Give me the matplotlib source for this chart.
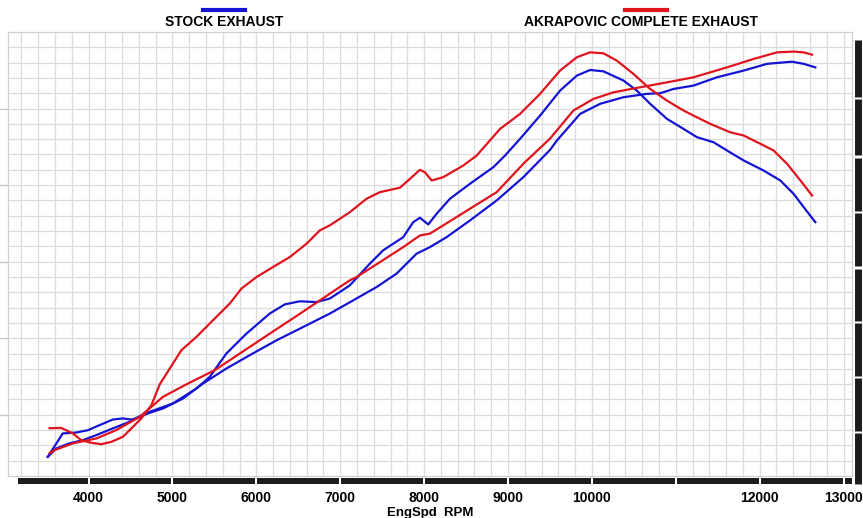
import matplotlib
matplotlib.use("Agg")
import matplotlib.pyplot as plt
import matplotlib.transforms as mtransforms
from matplotlib.lines import Line2D

# engine speed (rpm) and curve heights in grid rows (y axis has no labels)
stock_torque_rpm = [3514, 3693, 3853, 3992, 4131, 4290, 4409, 4510, 4609, 4728, 5006, 5285, 5444,
                    5643, 5882, 6160, 6339, 6518, 6717, 6876, 7114, 7353, 7512, 7631, 7751, 7870,
                    7950, 8049, 8149, 8308, 8547, 8825, 8964, 9143, 9382, 9620, 9820, 9978, 10137,
                    10376, 10536, 10694, 10894, 11092, 11252, 11450, 11610, 11808, 12047, 12246,
                    12404, 12524, 12663]
stock_torque = [1.25, 2.78, 2.84, 2.99, 3.32, 3.69, 3.76, 3.69, 3.82, 4.19, 4.74, 5.71, 6.47,
                8.00, 9.30, 10.61, 11.21, 11.41, 11.36, 11.59, 12.45, 13.87, 14.74, 15.17, 15.60,
                16.58, 16.87, 16.43, 17.13, 18.11, 19.09, 20.17, 20.93, 22.02, 23.54, 25.17,
                26.15, 26.52, 26.43, 25.83, 25.17, 24.31, 23.33, 22.67, 22.13, 21.80, 21.26,
                20.61, 19.95, 19.30, 18.43, 17.56, 16.58]

stock_power_rpm = [3514, 3615, 3773, 3932, 4092, 4290, 4489, 4609, 4887, 5125, 5364, 5643, 5921,
                   6240, 6557, 6876, 7154, 7433, 7672, 7910, 8069, 8268, 8546, 8865, 9183, 9501,
                   9581, 9859, 10098, 10376, 10655, 10814, 10973, 11211, 11490, 11808, 12087,
                   12385, 12524, 12663]
stock_power = [1.25, 1.80, 2.13, 2.34, 2.67, 3.11, 3.54, 3.91, 4.41, 5.06, 6.04, 7.02, 7.89,
               8.86, 9.73, 10.61, 11.47, 12.34, 13.22, 14.52, 14.95, 15.60, 16.69, 18.00, 19.52,
               21.30, 21.90, 23.65, 24.31, 24.74, 24.96, 25.00, 25.28, 25.50, 26.04, 26.48,
               26.92, 27.06, 26.92, 26.69]

akra_torque_rpm = [3535, 3674, 3813, 3913, 4032, 4152, 4271, 4409, 4529, 4629, 4749, 4850, 5106,
                   5285, 5483, 5683, 5822, 6001, 6199, 6399, 6598, 6757, 6876, 7114, 7314, 7473,
                   7711, 7831, 7950, 8009, 8090, 8228, 8467, 8626, 8905, 9143, 9382, 9620, 9820,
                   9978, 10137, 10297, 10495, 10694, 10894, 11092, 11211, 11410, 11649, 11808,
                   12007, 12166, 12326, 12485, 12624]
akra_torque = [3.12, 3.14, 2.78, 2.34, 2.17, 2.08, 2.23, 2.56, 3.21, 3.76, 4.62, 6.00, 8.21,
               9.08, 10.17, 11.26, 12.24, 12.99, 13.65, 14.30, 15.17, 16.04, 16.37, 17.23, 18.11,
               18.54, 18.83, 19.41, 20.00, 19.84, 19.30, 19.52, 20.28, 20.93, 22.67, 23.65,
               24.96, 26.48, 27.35, 27.67, 27.61, 27.13, 26.26, 25.28, 24.52, 23.87, 23.54,
               23.00, 22.45, 22.24, 21.70, 21.26, 20.39, 19.30, 18.32]

akra_power_rpm = [3535, 3594, 3813, 4092, 4331, 4609, 4887, 5185, 5504, 6160, 6479, 6757, 7114,
                  7194, 7473, 7751, 7950, 8069, 8228, 8547, 8865, 9191, 9501, 9779, 10018, 10257,
                  10575, 10894, 11211, 11610, 11927, 12206, 12404, 12524, 12624]
akra_power = [1.49, 1.69, 2.13, 2.45, 3.00, 3.86, 5.17, 6.04, 6.91, 9.30, 10.45, 11.47, 12.78,
              12.99, 13.97, 14.95, 15.71, 15.83, 16.37, 17.46, 18.54, 20.44, 22.04, 23.87, 24.63,
              25.06, 25.39, 25.71, 26.04, 26.69, 27.24, 27.67, 27.72, 27.67, 27.52]

xticks = [4000, 5000, 6000, 7000, 8000, 9000, 10000, 11000, 12000, 13000]
xtick_labels = ["4000", "5000", "6000", "7000", "8000", "9000", "10000", "", "12000", "13000"]

BLUE = "#1414d2"
RED = "#e0141e"
GRID = "#dcdcdc"
BAR = "#1c1c1c"

plt.rcParams["font.family"] = ["Liberation Sans", "DejaVu Sans"]

fig = plt.figure(figsize=(8.63, 5.18), dpi=100)
ax = fig.add_axes([8 / 863, 1 - 476 / 518, 844 / 863, 444 / 518])

ax.plot(stock_torque_rpm, stock_torque, color=BLUE, lw=1.6)
ax.plot(stock_power_rpm, stock_power, color=BLUE, lw=1.6)
ax.plot(akra_torque_rpm, akra_torque, color=RED, lw=1.6)
ax.plot(akra_power_rpm, akra_power, color=RED, lw=1.6)

ax.set_xlim(3040, 13100)
ax.set_ylim(0, 29)

ax.set_xticks(xticks)
ax.set_xticklabels(xtick_labels, fontsize=10, fontweight="bold")
ax.set_xticks(range(3200, 13100, 200), minor=True)
ax.set_yticks([4, 9, 14, 19, 24])
ax.set_yticklabels([])
ax.set_yticks(range(1, 29), minor=True)
ax.tick_params(axis="x", which="both", length=0, pad=11)
ax.tick_params(axis="y", which="major", length=7, color="#c8c8c8", width=1)
ax.tick_params(axis="y", which="minor", length=0)
ax.grid(which="both", color=GRID, lw=0.9)
ax.set_axisbelow(True)
for s in ax.spines.values():
    s.set_color("#d0d0d0")
    s.set_linewidth(0.9)
ax.set_xlabel("EngSpd  RPM", fontsize=9.5, fontweight="bold", labelpad=1)

# black segmented scale bar under the plot
tx = mtransforms.blended_transform_factory(ax.transData, ax.transAxes)
edges = [3165] + xticks + [13100]
for a, b in zip(edges[:-1], edges[1:]):
    ax.plot([a + 12 if a != 3165 else a, b - 12 if b != 13100 else b], [-0.0113, -0.0113],
            transform=tx, color=BAR, lw=4.3, solid_capstyle="butt", clip_on=False)

# black segmented scale bar on the right
ty = mtransforms.blended_transform_factory(ax.transAxes, ax.transData)
right_segments = [(-0.5, 2.8), (2.95, 6.4), (6.55, 10.0), (10.15, 13.55), (13.7, 17.15),
                  (17.3, 20.8), (20.95, 24.6), (24.75, 28.5)]
for a, b in right_segments:
    ax.plot([1.0077, 1.0077], [a, b], transform=ty, color=BAR, lw=5,
            solid_capstyle="butt", clip_on=False)

# legend at the top
fig.add_artist(Line2D([203 / 863, 245 / 863], [1 - 10 / 518, 1 - 10 / 518], color=BLUE, lw=3))
fig.add_artist(Line2D([625 / 863, 667 / 863], [1 - 10 / 518, 1 - 10 / 518], color=RED, lw=3))
fig.text(224 / 863, 1 - 22 / 518, "STOCK EXHAUST", ha="center", va="center",
         fontsize=10, fontweight="bold")
fig.text(641 / 863, 1 - 22 / 518, "AKRAPOVIC COMPLETE EXHAUST", ha="center", va="center",
         fontsize=10, fontweight="bold")

fig.savefig("out.png", dpi=100)
